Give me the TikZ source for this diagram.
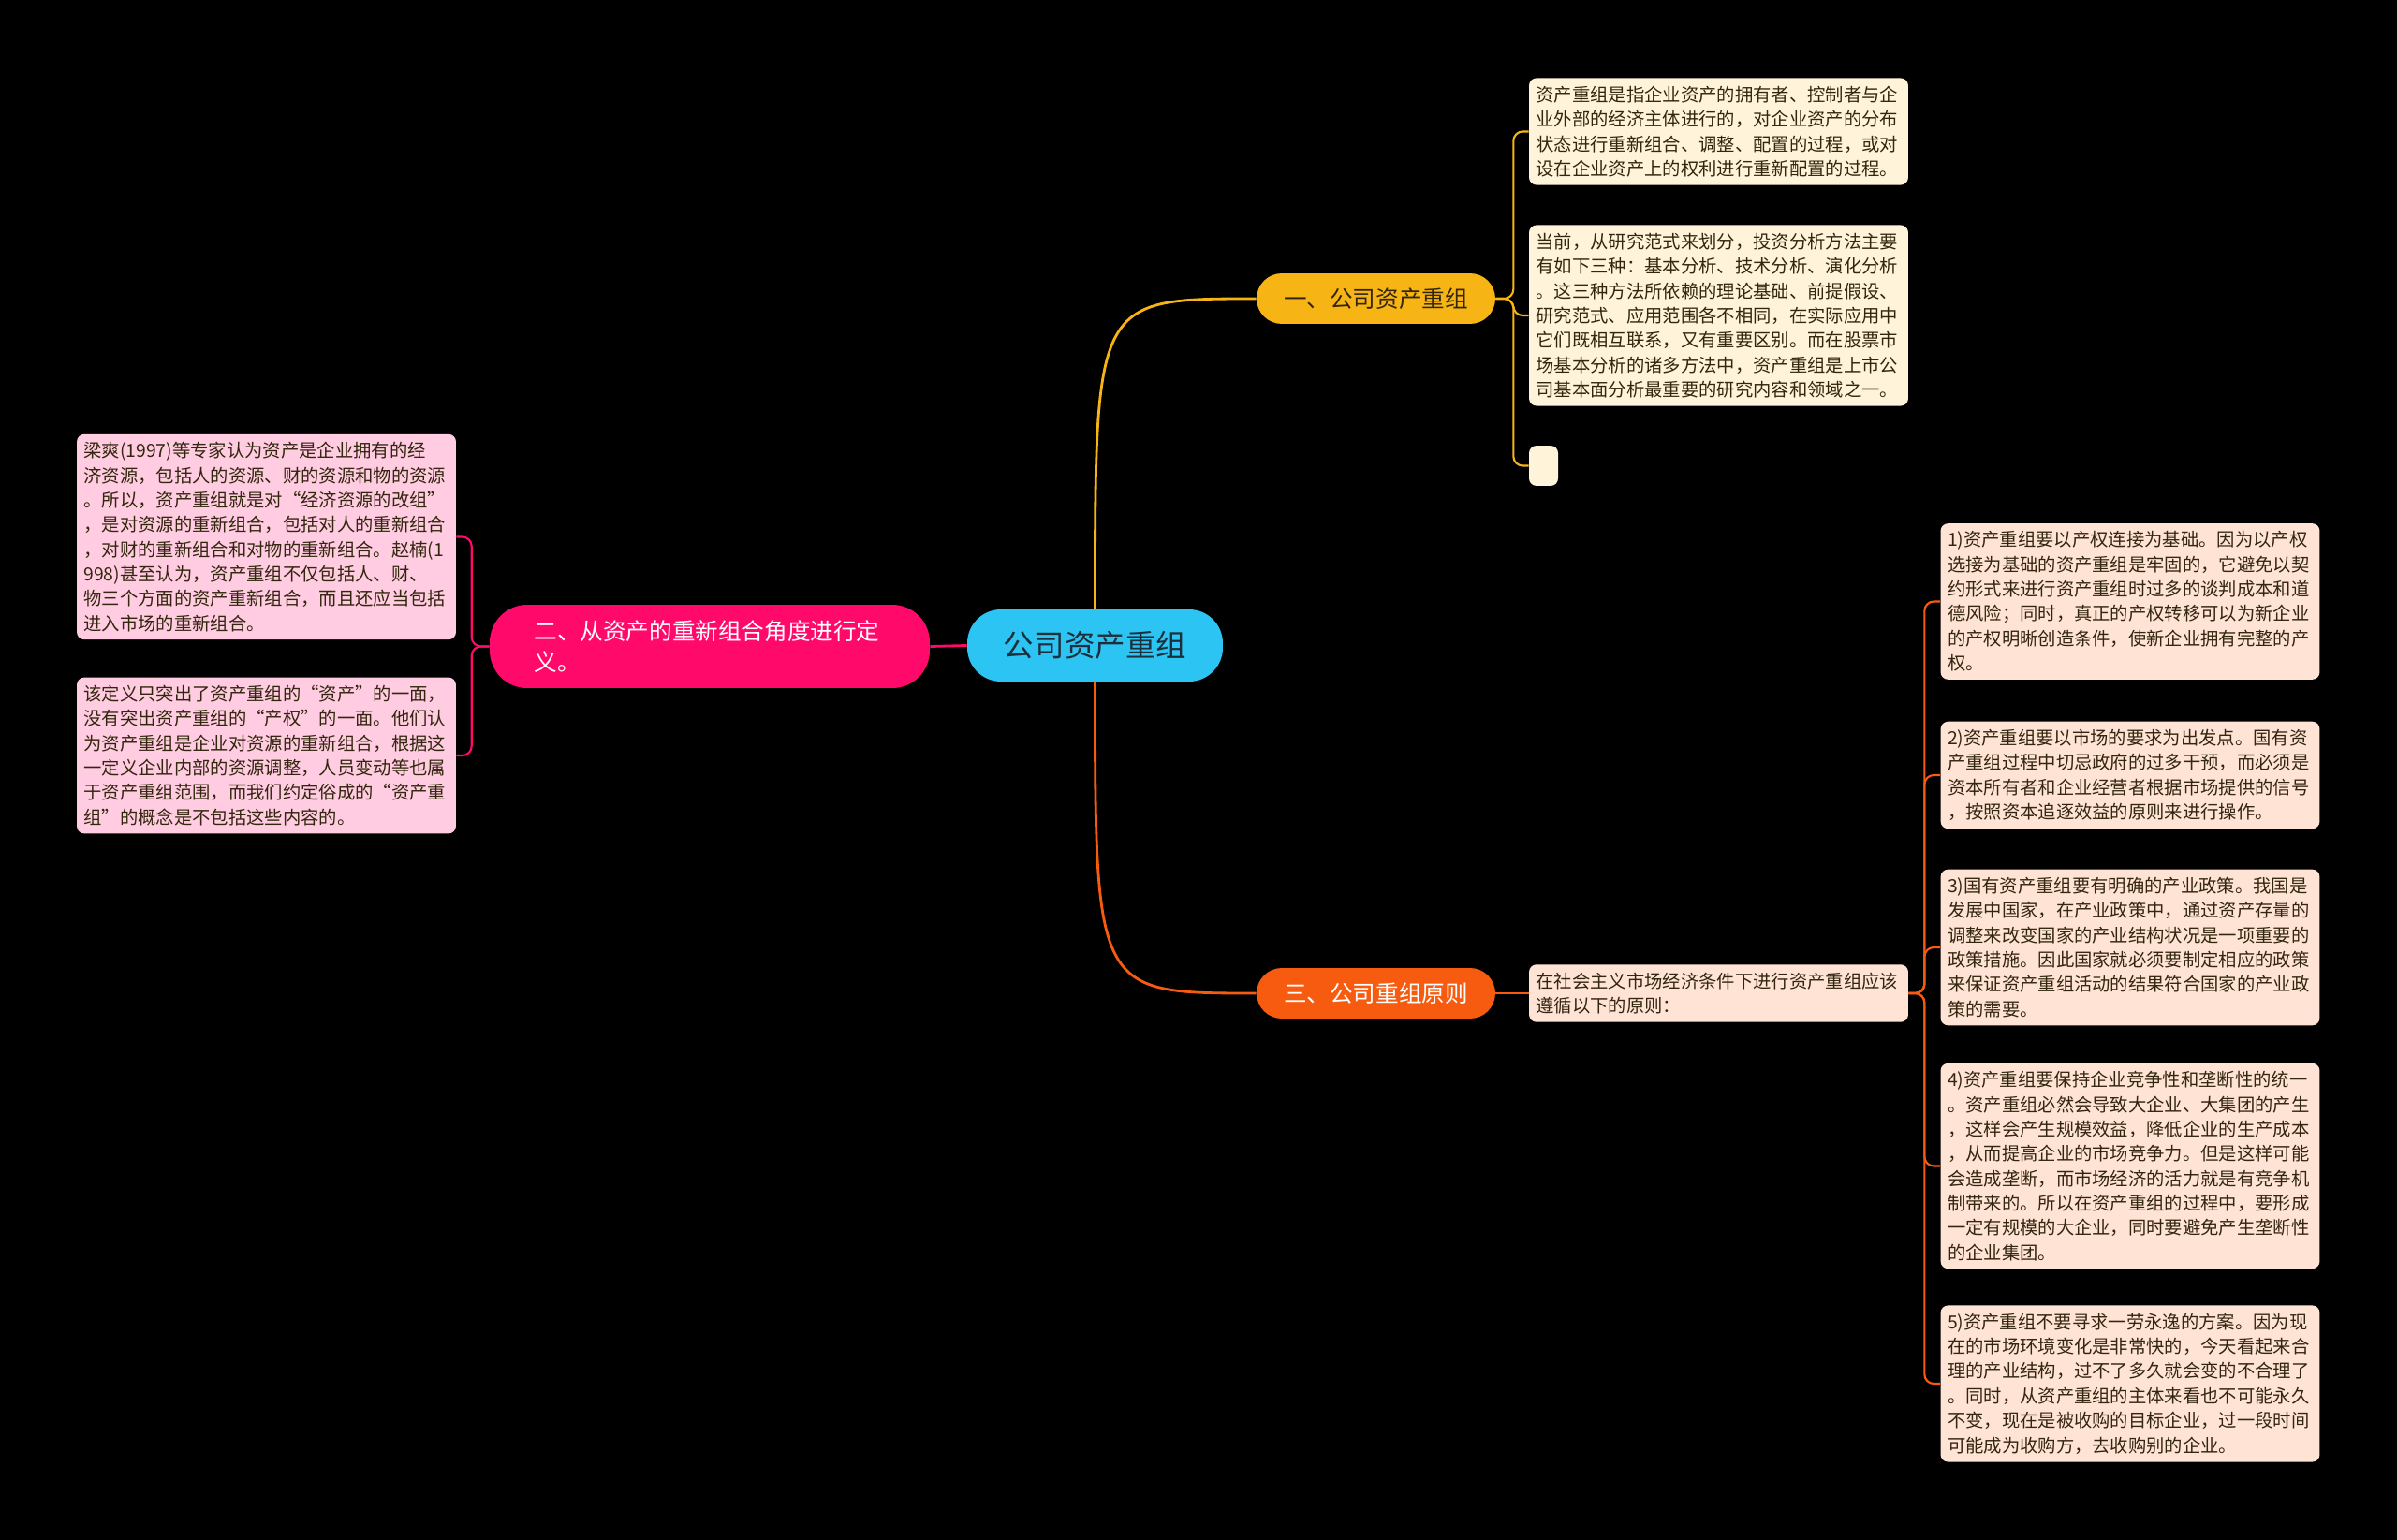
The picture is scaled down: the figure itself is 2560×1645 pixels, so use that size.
\documentclass[tikz,border=0pt]{standalone}
\usepackage{fontspec}
\setmainfont{Noto Sans CJK SC}
\usepackage{xcolor}
\definecolor{rootfill}{HTML}{2CC4F2}
\definecolor{rootink}{HTML}{1C2F3C}
\definecolor{ambr}{HTML}{F7B515}
\definecolor{rosa}{HTML}{FF0A6B}
\definecolor{oran}{HTML}{F65B10}
\definecolor{cream}{HTML}{FFF4DA}
\definecolor{pinkleaf}{HTML}{FFCCE1}
\definecolor{peach}{HTML}{FFE4D5}
\definecolor{ink}{HTML}{33260E}
\usepackage{tikz}
\usetikzlibrary{positioning,calc}

\begin{document}
\begin{tikzpicture}[
  x=0.02cm, y=-0.02cm,
  font=\fontsize{11}{15}\selectfont,
  leaf/.style={fill=#1, text=ink, rounded corners=0.16cm, text width=7.8cm,
    inner xsep=0.15cm, inner ysep=0.17cm, align=left},
  br/.style={fill=#1, rounded corners=0.54cm, minimum width=5.1cm,
    minimum height=1.08cm, font=\fontsize{14}{18.5}\selectfont},
  ln/.style={draw=#1, line width=1.6pt},
  bk/.style={draw=#1, line width=1.2pt, rounded corners=0.2cm}
]
  \fill[black] (0,0) rectangle (2560,1645);
  \node[fill=rootfill, text=rootink, rounded corners=0.72cm, minimum width=5.46cm,
    minimum height=1.54cm, font=\fontsize{18.5}{22}\selectfont] (root) at (1169.5,689.5) {公司资产重组};
  \node[br=ambr, text=ink] (b1) at (1469.5,319) {一、公司资产重组};
  \node[br=rosa, text=white, rounded corners=0.8cm, text width=7.5cm, align=left,
    inner xsep=0.95cm, minimum height=1.78cm] (b2) at (758,690.5) {二、从资产的重新组合角度进行定\\义。};
  \node[br=oran, text=white] (b3) at (1469.5,1061) {三、公司重组原则};
  % first branch
  \node[leaf=cream] (l1a) at (1835.5,140.5) {资产重组是指企业资产的拥有者、控制者与企\\
业外部的经济主体进行的，对企业资产的分布\\
状态进行重新组合、调整、配置的过程，或对\\
设在企业资产上的权利进行重新配置的过程。};
  \node[leaf=cream] (l1b) at (1835.5,337) {当前，从研究范式来划分，投资分析方法主要\\
有如下三种：基本分析、技术分析、演化分析\\
。这三种方法所依赖的理论基础、前提假设、\\
研究范式、应用范围各不相同，在实际应用中\\
它们既相互联系，又有重要区别。而在股票市\\
场基本分析的诸多方法中，资产重组是上市公\\
司基本面分析最重要的研究内容和领域之一。};
  \node[fill=cream, rounded corners=0.16cm, minimum width=0.62cm, minimum height=0.86cm,
    inner sep=0pt] (l1c) at (1648.5,497.5) {};
  % second branch
  \node[leaf=pinkleaf] (l2a) at (284.5,573.5) {梁爽(1997)等专家认为资产是企业拥有的经\\
济资源，包括人的资源、财的资源和物的资源\\
。所以，资产重组就是对“经济资源的改组”\\
，是对资源的重新组合，包括对人的重新组合\\
，对财的重新组合和对物的重新组合。赵楠(1\\
998)甚至认为，资产重组不仅包括人、财、\\
物三个方面的资产重新组合，而且还应当包括\\
进入市场的重新组合。};
  \node[leaf=pinkleaf] (l2b) at (284.5,807) {该定义只突出了资产重组的“资产”的一面，\\
没有突出资产重组的“产权”的一面。他们认\\
为资产重组是企业对资源的重新组合，根据这\\
一定义企业内部的资源调整，人员变动等也属\\
于资产重组范围，而我们约定俗成的“资产重\\
组”的概念是不包括这些内容的。};
  % third branch
  \node[leaf=peach] (l3) at (1835.5,1061) {在社会主义市场经济条件下进行资产重组应该\\
遵循以下的原则：};
  \node[leaf=peach] (s1) at (2275,642.5) {1)资产重组要以产权连接为基础。因为以产权\\
选接为基础的资产重组是牢固的，它避免以契\\
约形式来进行资产重组时过多的谈判成本和道\\
德风险；同时，真正的产权转移可以为新企业\\
的产权明晰创造条件，使新企业拥有完整的产\\
权。};
  \node[leaf=peach] (s2) at (2275,828) {2)资产重组要以市场的要求为出发点。国有资\\
产重组过程中切忌政府的过多干预，而必须是\\
资本所有者和企业经营者根据市场提供的信号\\
，按照资本追逐效益的原则来进行操作。};
  \node[leaf=peach] (s3) at (2275,1012) {3)国有资产重组要有明确的产业政策。我国是\\
发展中国家，在产业政策中，通过资产存量的\\
调整来改变国家的产业结构状况是一项重要的\\
政策措施。因此国家就必须要制定相应的政策\\
来保证资产重组活动的结果符合国家的产业政\\
策的需要。};
  \node[leaf=peach] (s4) at (2275,1245.5) {4)资产重组要保持企业竞争性和垄断性的统一\\
。资产重组必然会导致大企业、大集团的产生\\
，这样会产生规模效益，降低企业的生产成本\\
，从而提高企业的市场竞争力。但是这样可能\\
会造成垄断，而市场经济的活力就是有竞争机\\
制带来的。所以在资产重组的过程中，要形成\\
一定有规模的大企业，同时要避免产生垄断性\\
的企业集团。};
  \node[leaf=peach] (s5) at (2275,1478) {5)资产重组不要寻求一劳永逸的方案。因为现\\
在的市场环境变化是非常快的，今天看起来合\\
理的产业结构，过不了多久就会变的不合理了\\
。同时，从资产重组的主体来看也不可能永久\\
不变，现在是被收购的目标企业，过一段时间\\
可能成为收购方，去收购别的企业。};
  % connectors
  \draw[ln=ambr] (root.north) .. controls (root.north |- b1.west) .. (b1.west);
  \draw[ln=oran] (root.south) .. controls (root.south |- b3.west) .. (b3.west);
  \draw[ln=rosa] (root.west) -- (b2.east);
  \foreach \t in {l1a,l1b,l1c}
    \draw[bk=ambr] (b1.east) -- ++(19,0) |- (\t.west);
  \foreach \t in {l2a,l2b}
    \draw[bk=rosa] (b2.west) -- ++(-19,0) |- (\t.east);
  \draw[bk=oran] (b3.east) -- (l3.west);
  \foreach \t in {s1,s2,s3,s4,s5}
    \draw[bk=oran] (l3.east) -- ++(17,0) |- (\t.west);
\end{tikzpicture}
\end{document}
